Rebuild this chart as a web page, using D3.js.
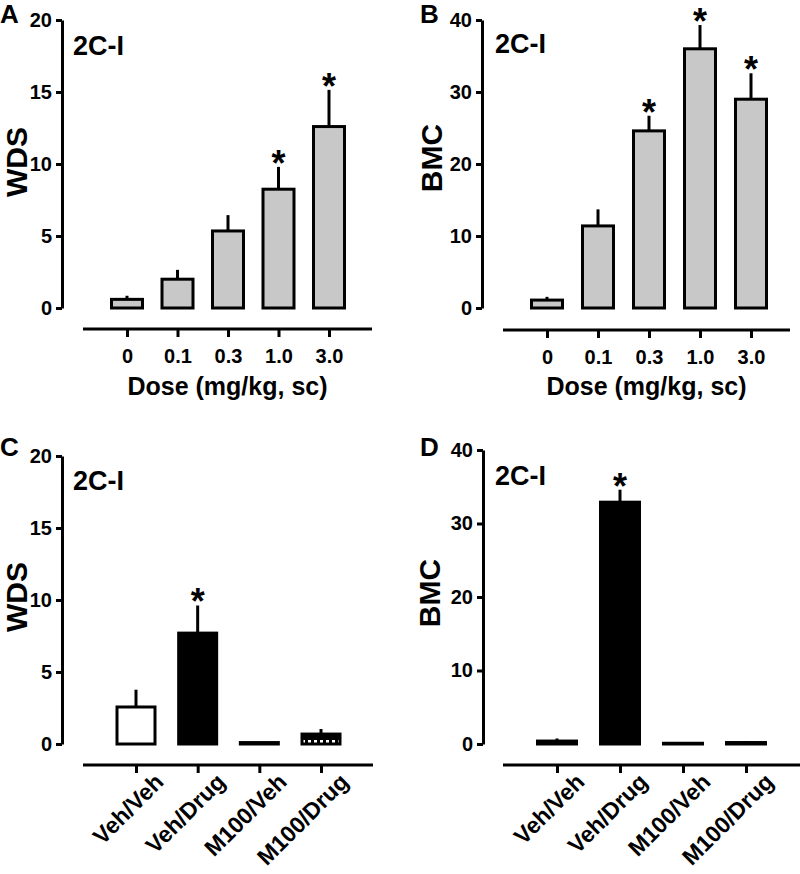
<!DOCTYPE html>
<html>
<head>
<meta charset="utf-8">
<script src="https://cdn.jsdelivr.net/npm/d3@7"></script>
<style>
  body { margin: 0; background: #fff; }
  svg { font-family: "Liberation Sans", Arial, sans-serif; font-weight: bold; }
</style>
</head>
<body>
<script>
// dose-response panels (A, B)
var doseLabels = ["0", "0.1", "0.3", "1.0", "3.0"];
var wdsDose    = [0.6, 2.0, 5.35, 8.25, 12.6];
var wdsDoseErr = [0.25, 0.65, 1.1, 1.55, 2.55];
var wdsDoseSig = [false, false, false, true, true];
var bmcDose    = [1.1, 11.4, 24.6, 36.0, 29.0];
var bmcDoseErr = [0.45, 2.3, 2.1, 3.3, 3.6];
var bmcDoseSig = [false, false, true, true, true];

// antagonist panels (C, D)
var groups      = ["Veh/Veh", "Veh/Drug", "M100/Veh", "M100/Drug"];
var wdsGroup    = [2.57, 7.7, 0.1, 0.69];
var wdsGroupErr = [1.2, 1.92, 0, 0.35];
var wdsGroupSig = [false, true, false, false];
var bmcGroup    = [0.4, 32.9, 0.1, 0.2];
var bmcGroupErr = [0.35, 1.7, 0, 0.2];
var bmcGroupSig = [false, true, false, false];
var groupFills  = ["#fff", "#000", "#fff", "url(#dash)"];

var wdsTicks = [0, 5, 10, 15, 20];
var bmcTicks = [0, 10, 20, 30, 40];

var svg = d3.select('body').append('svg')
  .attr('width', 800)
  .attr('height', 874);

// checker fill for M100/Drug
var pat = svg.append('defs').append('pattern')
  .attr('id', 'dash')
  .attr('patternUnits', 'userSpaceOnUse')
  .attr('width', 6).attr('height', 8)
  .attr('x', 1).attr('y', 2);
pat.append('rect').attr('width', 6).attr('height', 8).attr('fill', '#000');
pat.append('rect').attr('x', 1).attr('y', 2).attr('width', 3).attr('height', 3).attr('fill', '#fff');

function panel(opt) {
  var g = svg.append('g');
  var y = d3.scaleLinear().domain([0, opt.ticks[opt.ticks.length - 1]]).range([opt.y0, opt.y1]);
  var x = d3.scalePoint().domain(opt.cats).range([opt.xa, opt.xb]);

  // y axis
  var ya = g.append('g')
    .attr('transform', 'translate(' + opt.axisX + ',0)')
    .call(d3.axisLeft(y).tickValues(opt.ticks).tickSize(6).tickSizeOuter(0).tickPadding(4));
  ya.selectAll('path, line').attr('stroke', '#000').attr('stroke-width', 3);
  ya.selectAll('text').attr('font-size', 20).attr('fill', '#000').attr('font-family', null);

  // x axis (line drawn separately, wider than the points)
  var xa = g.append('g')
    .attr('transform', 'translate(0,' + opt.xAxisY + ')')
    .call(d3.axisBottom(x).tickSize(8).tickSizeOuter(0).tickPadding(opt.rotate ? 10 : 12));
  xa.select('.domain').remove();
  xa.selectAll('line').attr('stroke', '#000').attr('stroke-width', 3);
  xa.selectAll('text').attr('font-size', opt.rotate ? 23 : 20).attr('fill', '#000').attr('font-family', null);
  if (opt.rotate) {
    xa.selectAll('text')
      .attr('text-anchor', 'end')
      .attr('dy', '0.35em')
      .attr('transform', 'translate(10,0) rotate(-45)');
  }
  g.append('line')
    .attr('x1', opt.lineX0).attr('x2', opt.lineX1)
    .attr('y1', opt.xAxisY).attr('y2', opt.xAxisY)
    .attr('stroke', '#000').attr('stroke-width', 3);

  var bw = opt.barW;
  var data = opt.cats.map(function(c, i) {
    return {cat: c, v: opt.vals[i], e: opt.errs[i], sig: opt.sig[i], fill: opt.fills[i]};
  });

  // error bars (upper only)
  g.selectAll('.err').data(data.filter(function(d) { return d.e > 0; }))
    .enter().append('line')
    .attr('x1', function(d) { return x(d.cat); })
    .attr('x2', function(d) { return x(d.cat); })
    .attr('y1', function(d) { return y(d.v); })
    .attr('y2', function(d) { return y(d.v + d.e); })
    .attr('stroke', '#000').attr('stroke-width', 3);

  g.selectAll('.bar').data(data)
    .enter().append('rect')
    .attr('x', function(d) { return x(d.cat) - bw / 2 + 1.5; })
    .attr('width', bw - 3)
    .attr('y', function(d) { return y(d.v); })
    .attr('height', function(d) { return Math.max(0.5, y(0) - y(d.v)); })
    .attr('fill', function(d) { return d.fill; })
    .attr('stroke', '#000').attr('stroke-width', 3);

  g.selectAll('.star').data(data.filter(function(d) { return d.sig; }))
    .enter().append('text')
    .attr('x', function(d) { return x(d.cat); })
    .attr('y', function(d) { return y(d.v + d.e) + 9; })
    .attr('text-anchor', 'middle')
    .attr('font-size', 36)
    .text('*');

  // titles
  g.append('text')
    .attr('transform', 'translate(' + opt.yTitleX + ',' + opt.yTitleY + ') rotate(-90)')
    .attr('text-anchor', 'middle')
    .attr('font-size', 30)
    .text(opt.yTitle);
  if (opt.xTitle) {
    g.append('text')
      .attr('x', (opt.lineX0 + opt.lineX1) / 2)
      .attr('y', opt.xTitleY)
      .attr('text-anchor', 'middle')
      .attr('font-size', 25)
      .text(opt.xTitle);
  }
  g.append('text')
    .attr('x', opt.drugX).attr('y', opt.drugY)
    .attr('font-size', 27)
    .text('2C-I');
  g.append('text')
    .attr('x', opt.letterX).attr('y', opt.letterY)
    .attr('font-size', 26)
    .text(opt.letter);
}

panel({
  letter: 'A', letterX: 0, letterY: 23,
  cats: doseLabels, vals: wdsDose, errs: wdsDoseErr, sig: wdsDoseSig,
  fills: doseLabels.map(function() { return '#c8c8c8'; }),
  ticks: wdsTicks, y0: 308, y1: 20, axisX: 62,
  xa: 127, xb: 329, barW: 34, xAxisY: 329, lineX0: 83, lineX1: 372,
  yTitle: 'WDS', yTitleX: 27, yTitleY: 162,
  xTitle: 'Dose (mg/kg, sc)', xTitleY: 395,
  drugX: 73, drugY: 55
});

panel({
  letter: 'B', letterX: 420, letterY: 23,
  cats: doseLabels, vals: bmcDose, errs: bmcDoseErr, sig: bmcDoseSig,
  fills: doseLabels.map(function() { return '#c8c8c8'; }),
  ticks: bmcTicks, y0: 308, y1: 20, axisX: 482,
  xa: 547, xb: 751, barW: 34, xAxisY: 330, lineX0: 503, lineX1: 790,
  yTitle: 'BMC', yTitleX: 442, yTitleY: 158,
  xTitle: 'Dose (mg/kg, sc)', xTitleY: 395,
  drugX: 495, drugY: 53
});

panel({
  letter: 'C', letterX: 0, letterY: 456,
  cats: groups, vals: wdsGroup, errs: wdsGroupErr, sig: wdsGroupSig,
  fills: groupFills, rotate: true,
  ticks: wdsTicks, y0: 744, y1: 456, axisX: 62,
  xa: 136, xb: 321, barW: 41, xAxisY: 765, lineX0: 83, lineX1: 373,
  yTitle: 'WDS', yTitleX: 27, yTitleY: 597,
  drugX: 73, drugY: 490
});

panel({
  letter: 'D', letterX: 420, letterY: 456,
  cats: groups, vals: bmcGroup, errs: bmcGroupErr, sig: bmcGroupSig,
  fills: groupFills, rotate: true,
  ticks: bmcTicks, y0: 744, y1: 450, axisX: 483,
  xa: 557, xb: 746, barW: 42, xAxisY: 765, lineX0: 503, lineX1: 800,
  yTitle: 'BMC', yTitleX: 440, yTitleY: 593,
  drugX: 495, drugY: 485
});
</script>
</body>
</html>
